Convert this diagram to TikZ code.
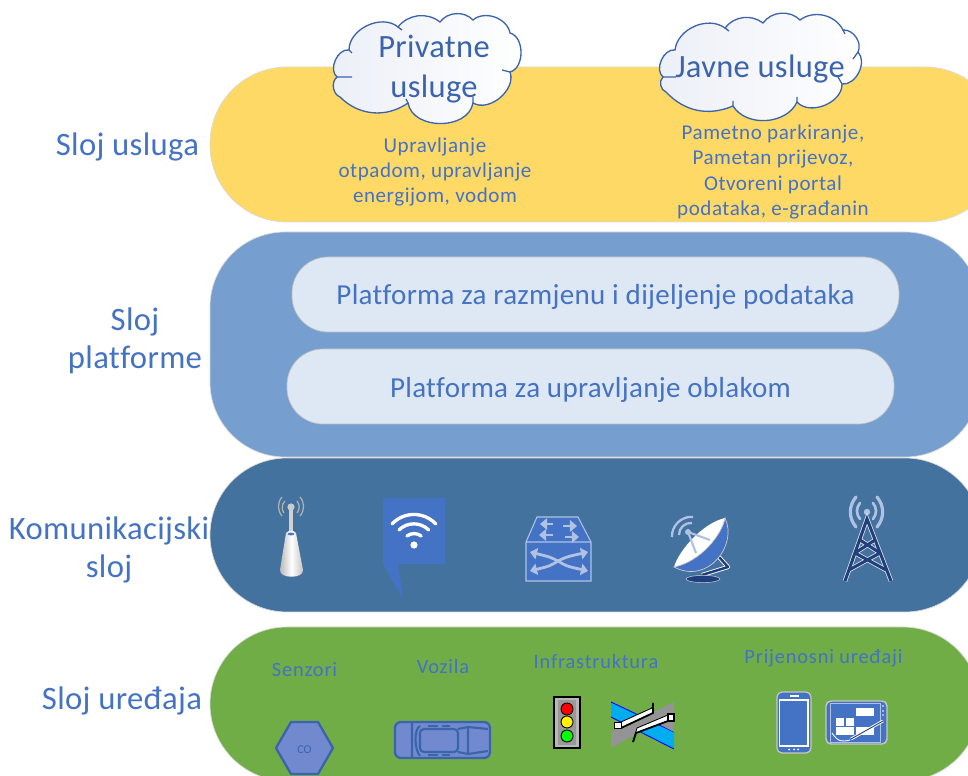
\documentclass[tikz,border=0pt]{standalone}
\usepackage{fontspec}
\setmainfont{Carlito}
\newfontfamily\lsa[LetterSpace=1.1,Ligatures=NoCommon]{Carlito}
\newfontfamily\lsb[LetterSpace=2.5,Ligatures=NoCommon]{Carlito}
\newfontfamily\lsc[LetterSpace=4,Ligatures=NoCommon]{Carlito}
\newfontfamily\lsd[LetterSpace=1,Ligatures=NoCommon]{Carlito}
\newfontfamily\lse[LetterSpace=1.05,Ligatures=NoCommon]{Carlito}
\usetikzlibrary{arrows.meta}
\definecolor{yel}{HTML}{FFD966}
\definecolor{blu}{HTML}{769FCF}
\definecolor{dkb}{HTML}{44729F}
\definecolor{grn}{HTML}{70AD47}
\definecolor{pale}{HTML}{DEE8F4}
\definecolor{acc}{HTML}{4472C4}
\definecolor{deep}{HTML}{3B64AD}
\definecolor{navy}{HTML}{1F3F7F}
\definecolor{lite}{HTML}{AFC2E4}
\definecolor{carf}{HTML}{7189CF}
\definecolor{cloudl}{HTML}{ECEFF7}
\tikzset{
 band/.style={rectangle,draw=black!15,line width=.4pt,inner sep=0pt},
 pill/.style={band,fill=pale,draw=black!25,rounded corners=36*0.02cm,font=\lse\fontsize{16.5}{19}\selectfont,text=acc},
 layer/.style={text=acc,align=center,font=\lsa\fontsize{18.6}{21.5}\selectfont},
 small/.style={text=acc,align=center,font=\lsb\fontsize{12}{14.45}\selectfont},
 cat/.style={text=acc,align=center,font=\lsc\fontsize{11.6}{14}\selectfont},
 cloudtxt/.style={text=deep,align=center,font=\lsd\fontsize{18.5}{22.8}\selectfont},
 cloudline/.style={draw=deep,line width=.75pt,left color=cloudl,right color=white},
 stub/.style={draw=deep,line width=.75pt},
 blueicon/.style={fill=carf,draw=deep,line width=1.3pt,line join=round},
 carline/.style={draw=deep,line width=1.2pt},
}
\begin{document}
\begin{tikzpicture}[x=0.02cm,y=-0.02cm]
\useasboundingbox (0,0) rectangle (968,776);
\clip (0,0) rectangle (968,776);
% bands
\node[band,fill=yel,rounded corners=77*0.02cm,minimum width=792*0.02cm,minimum height=155*0.02cm] (usluga) at (606,144.5) {};
\node[band,fill=blu,rounded corners=75*0.02cm,minimum width=770*0.02cm,minimum height=225*0.02cm] (platforma) at (595,344.5) {};
\node[band,fill=dkb,rounded corners=77*0.02cm,minimum width=772*0.02cm,minimum height=154*0.02cm] (kom) at (596,535) {};
\node[band,fill=grn,rounded corners=77*0.02cm,minimum width=770*0.02cm,minimum height=154*0.02cm] (uredaji) at (595,704) {};
% pills
\node[pill,minimum width=607*0.02cm,minimum height=75*0.02cm] (p1) at (595.5,294.5) {\raisebox{-5.8pt}[0pt][0pt]{Platforma za razmjenu i dijeljenje podataka}};
\node[pill,minimum width=607*0.02cm,minimum height=75*0.02cm] (p2) at (590.5,386.5) {\raisebox{-6.2pt}[0pt][0pt]{Platforma za upravljanje oblakom}};
% layer labels
\node[layer] (l1) at (127.5,147) {Sloj usluga};
\node[layer] (l2) at (135,341) {Sloj\\platforme};
\node[layer] (l3) at (109,550) {Komunikacijski\\sloj};
\node[layer] (l4) at (122,701) {Sloj uređaja};
% clouds
\path[cloudline] (337,77) to[bend left=75] (349,50) to[bend left=65] (398,27) to[bend left=45] (440,22)
 to[bend left=50] (473,20) to[bend left=60] (510,33) to[bend left=75] (510,72) to[bend left=70] (473,103)
 to[bend left=80,looseness=1.1] (408,103) to[bend left=40] (340,97) to[bend left=60] (337,77) -- cycle;
\draw[stub] (337,77) -- (352,77) (473,103) -- (473,97) (510,72) -- (502,70) (408,103) -- (406,99) (398,27) -- (402,30) (349,50) -- (352,53);
\node[cloudtxt] (c1) at (434,69) {Privatne\\usluge};
\path[cloudline] (663,77) to[bend left=75] (675,50) to[bend left=60] (725,28) to[bend left=45] (763,23)
 to[bend left=50] (800,20) to[bend left=50] (843,30) to[bend left=60] (858,52) to[bend left=70] (842,84)
 to[bend left=70] (797,102) to[bend left=62] (733,106) to[bend left=35] (666,92) to[bend left=60] (663,77) -- cycle;
\draw[stub] (663,77) -- (676,77) (725,28) -- (729,31) (858,52) -- (853,59) (842,84) -- (838,77) (797,102) -- (797,97) (733,106) -- (733,101) (843,30) -- (845,34);
\node[cloudtxt] (c2) at (760,69) {Javne usluge};
% yellow text
\node[small] (t1) at (435,172) {Upravljanje\\otpadom, upravljanje\\energijom, vodom};
\node[small] (t2) at (773,172) {Pametno parkiranje,\\Pametan prijevoz,\\Otvoreni portal\\podataka, e-građanin};
% category labels
\node[cat] (s1) at (304.5,670) {Senzori};
\node[cat] (s2) at (443,667) {Vozila};
\node[cat] (s3) at (596,662) {Infrastruktura};
\node[cat] (s4) at (823.5,658) {Prijenosni uređaji};

% antenna
\draw[black!30,line width=.7pt] (284,513) to[bend left=40] (285,501) (282,516) to[bend left=40] (282,497)
  (297,501) to[bend left=40] (297,513) (300,497) to[bend left=40] (300,516);
\draw[black!18,line width=2pt] (291,507) -- (291,535);
\fill[black!20] (291,507) circle (3.6);
\shade[left color=black!30,right color=black!25,middle color=white] (286,533) .. controls (288,530) and (294,530) .. (296,533) -- (303,570) .. controls (304,579) and (279,579) .. (280,570) -- cycle;
\fill[acc!80!gray] (291,534) ellipse (3.5 and 1.4);
% wifi
\fill[acc] (383,498) -- (445,498) -- (445,564) -- (398,564) -- (403,599) -- (383,564) -- cycle;
\fill[white] (414,545) circle (3.6);
\draw[white,line width=1.9pt,line cap=round] (407,536) arc (232:308:11.5);
\draw[white,line width=1.9pt,line cap=round] (399,530) arc (225:315:21);
\draw[white,line width=1.9pt,line cap=round] (392,524) arc (223:317:30);
% switch
\draw[lite,fill=acc,line width=.6pt] (526,542) -- (537,517) -- (578,517) -- (591,542) -- (591,581) -- (526,581) -- cycle (526,542) -- (591,542);
\begin{scope}[lite,line width=1.6pt,-{Triangle[width=6.5pt,length=4pt]}]
\draw (553,524) -- (540,524);
\draw (563,526) -- (577,526);
\draw (553,535) -- (539,535);
\draw (565,537) -- (579,537);
\draw (558,561) .. controls (550,557) .. (530,552);
\draw (558,561) .. controls (566,557) .. (588,552);
\draw (558,561) .. controls (550,566) .. (530,571);
\draw (558,561) .. controls (566,566) .. (588,571);
\end{scope}
% dish
\draw[lite,line width=1.3pt] (679,535) to[bend left=50] (692,523);
\draw[lite,line width=1.3pt] (672,537) to[bend left=50] (693,517);
\draw[white,line width=2.4pt,line join=round] (719,557) -- (728,567) -- (702,575);
\draw[navy,line width=1.4pt,line join=round] (719,557) -- (728,567) -- (702,575);
\filldraw[fill=navy,draw=black!20,line width=.3pt] (703,579) ellipse (17 and 3.6);
\fill[white] (725,518) .. controls (703,523) and (679,550) .. (674,567) .. controls (700,562) and (722,535) .. (725,518) -- cycle;
\filldraw[fill=acc,draw=black!20,line width=.4pt] (725,518) .. controls (738,545) and (708,585) .. (674,567) .. controls (700,562) and (722,535) .. (725,518) -- cycle;
\draw[lite,line width=1.2pt] (688,532) -- (710,540) (688,532) -- (696,553);
\fill[lite] (688,532) circle (3);
% tower
\fill[lite] (867,512) circle (3.2);
\draw[lite,line width=1.5pt,line cap=round] (860,519) to[bend left=40] (860,503) (873,503) to[bend left=40] (873,519);
\draw[lite,line width=1.8pt,line cap=round] (856,527) to[bend left=40] (856,497) (877,497) to[bend left=40] (877,527);
\foreach \c/\w in {black!12/2.6,navy/1.7}{
\draw[\c,line width=\w pt,line join=miter] (845,581) -- (867,519) -- (891,581);
\draw[\c,line width=\w pt] (860,540) -- (880,553) (875,540) -- (855,553) (855,553) -- (886,570) (880,553) -- (849,570);
}
% hexagon
\draw[blueicon] (276,748) -- (291,722) -- (318,722) -- (333,748) -- (318,774) -- (291,774) -- cycle;
\node[text=deep,font=\fontsize{6.8}{8}\selectfont] (coT) at (304.5,750) {CO};
% car
\draw[blueicon,rounded corners=6*0.02cm] (395,722) rectangle (490,758);
\draw[carline,rounded corners=4*0.02cm] (420,729) rectangle (458,752);
\draw[carline] (412,723) -- (412,757) (468,727) -- (468,754) (468,727) -- (488,729) (468,754) -- (488,751);
\draw[carline] (420,726) .. controls (414,729) and (414,749) .. (420,756);
\draw[carline] (458,729) -- (468,727) (458,752) -- (468,754);
\draw[carline,line width=.8pt] (428,726) -- (438,726) (442,726) -- (450,726) (428,755) -- (438,755) (442,755) -- (450,755);
% traffic light
\draw[black,fill=black!28,line width=.6pt] (554,697) rectangle (580,748);
\fill[black!40] (558,700) rectangle (576,745);
\draw[black,fill=red,line width=.5pt] (567,709) circle (6);
\draw[black,fill=yellow,line width=.5pt] (567,722) circle (6);
\draw[black,fill=green,line width=.5pt] (567,736) circle (6);
% bridge
\fill[cyan] (611,702) -- (674,732) -- (674,749) -- (611,717) -- cycle;
\draw[blue,line width=.5pt] (611,702) -- (674,732) (611,717) -- (674,749);
\fill[black!42] (611,732) -- (674,702) -- (674,732) -- (657,723) -- (611,748) -- cycle;
\draw[black,fill=white,line width=.5pt,line join=round] (621,722) -- (652,708) -- (653,703) -- (653,713) -- (621,728) -- cycle;
\draw[black,line width=1pt] (621,728) -- (653,713) -- (653,703);
\draw[black,fill=white,line width=.5pt] (614,722) rectangle (621,728);
\draw[black,fill=white,line width=.5pt,line join=round] (668,715) -- (637,728) -- (633,742) -- (636,733) -- (668,721) -- cycle;
\draw[black,line width=1pt] (633,742) -- (636,733) -- (668,721);
\draw[black,fill=white,line width=.6pt] (668,714) rectangle (674,721);
% phone
\draw[black!22,fill=acc,line width=.7pt,rounded corners=5*0.02cm] (777,692) rectangle (811,753);
\draw[white,line width=.6pt] (779.5,700) rectangle (808,746);
\draw[white,line width=.6pt] (789.5,696) -- (798.5,696);
\foreach \px in {789,794,798} \fill[white] (\px,749.5) circle (1);
% tablet
\draw[black!22,fill=acc,line width=.8pt,rounded corners=5*0.02cm] (826,701) rectangle (887,744);
\draw[lite,line width=.4pt] (830,703) rectangle (880,742);
\foreach \ra/\rb in {{856,708}/{874,716},{836,718}/{844,726},{846,718}/{854,726},{836,727}/{854,735},{856,727}/{874,735}}
  \fill[white] (\ra) rectangle (\rb);
\draw[white,line width=.5pt] (832,733) .. controls (838,742) and (842,742) .. (850,740);
\draw[white,line width=1.6pt] (883,721) -- (851,739);
\draw[navy,line width=.5pt] (883,721) -- (851,739);
\foreach \py in {706,711,715} \fill[white] (883,\py) circle (.9);
\end{tikzpicture}
\end{document}
